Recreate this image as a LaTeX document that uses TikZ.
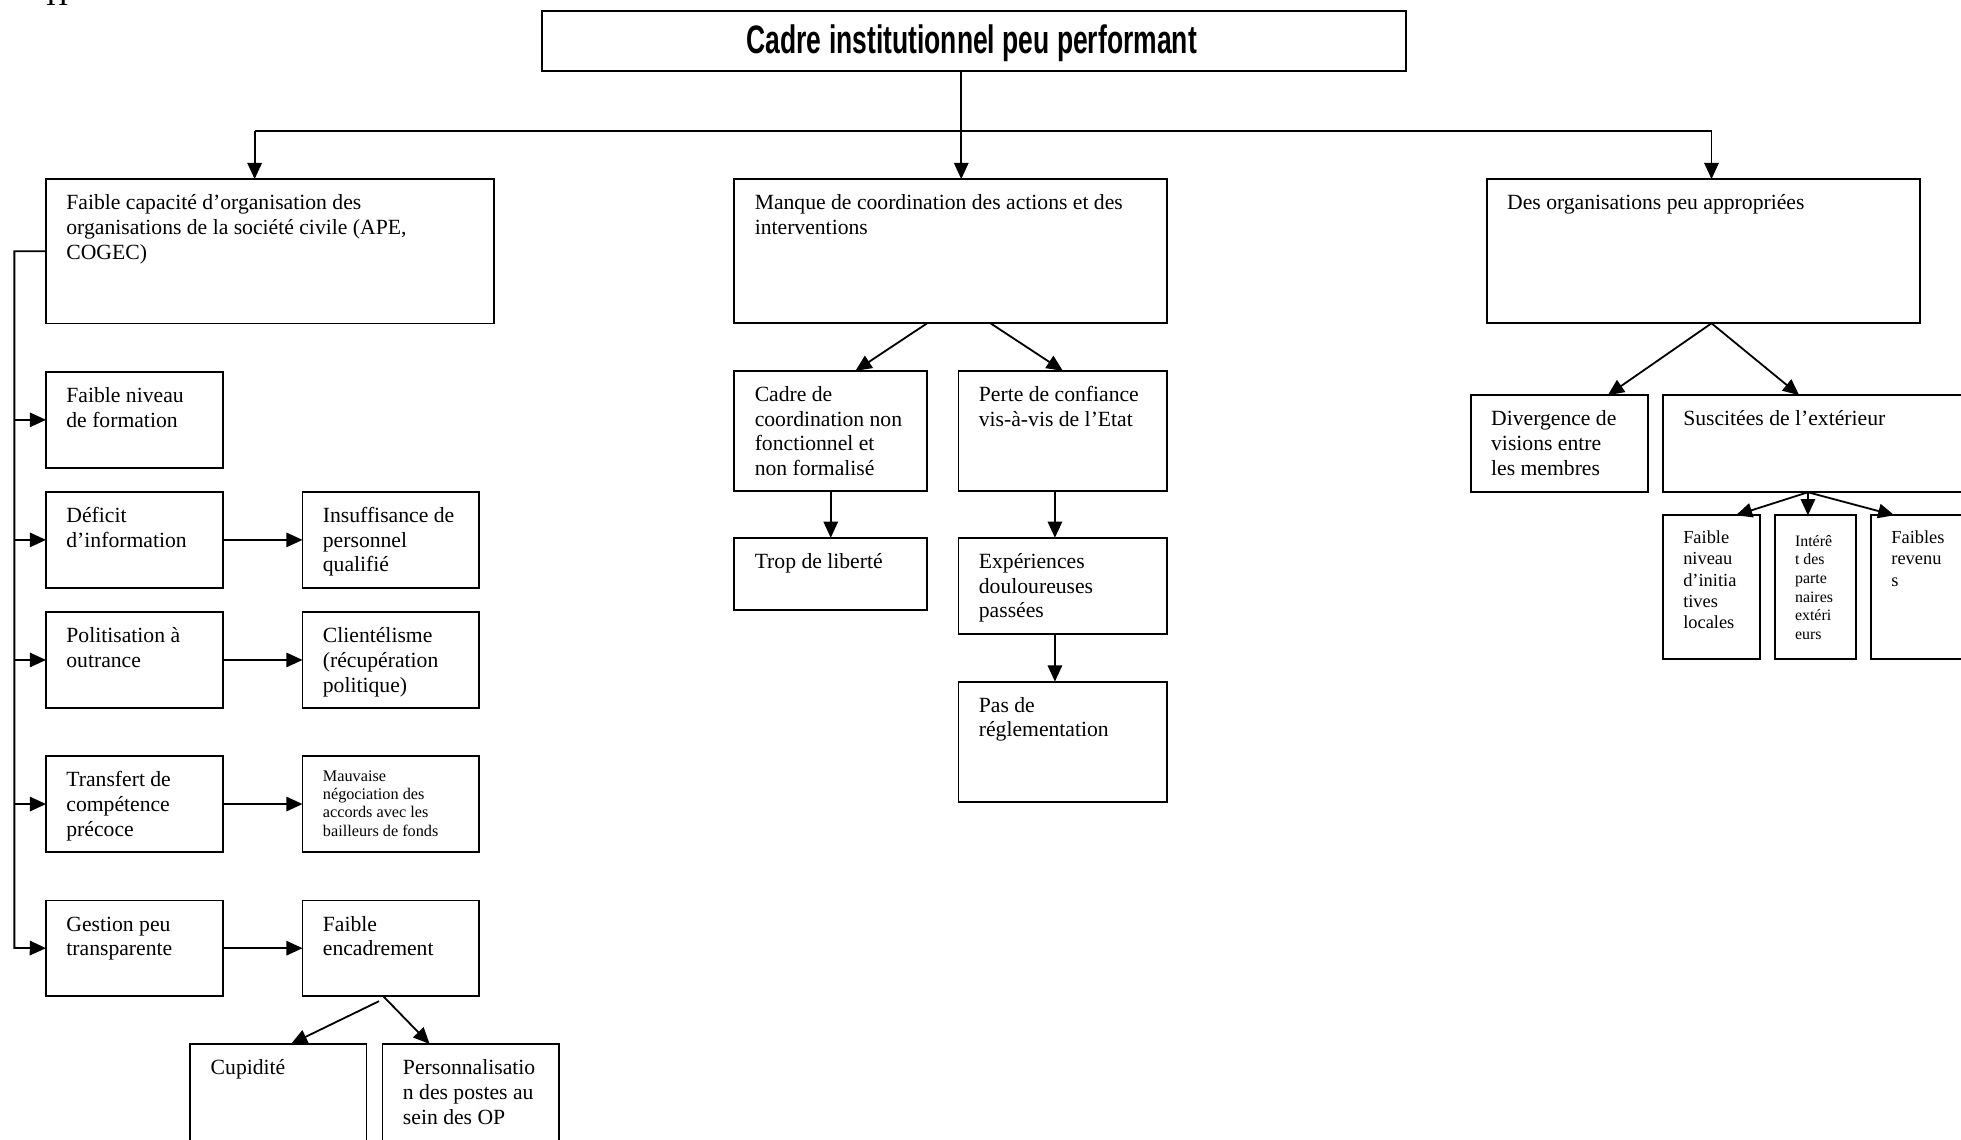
\documentclass[tikz,border=0pt]{standalone}
\usepackage{fontspec}
\usepackage{graphicx}
\setmainfont{Liberation Serif}
\newfontfamily\titlefont{Liberation Sans}
\usetikzlibrary{arrows.meta}

\tikzset{
  boxst/.style={draw, line width=1pt, inner sep=0pt, outer sep=0pt},
  lbl/.style={anchor=north west, inner sep=0pt, outer sep=0pt, align=left,
              font=\fontsize{12}{13.7}\selectfont},
  lblsmall/.style={lbl, font=\fontsize{9}{10.2}\selectfont},
  lbltiny/.style={lbl, font=\fontsize{8.8}{10.35}\selectfont},
  lblmid/.style={lbl, font=\fontsize{10.2}{11.8}\selectfont},
  wire/.style={line width=1pt},
  arr/.style={line width=1pt, -{Triangle[length=9pt,width=8pt]}},
}

% box from (x1,y1) to (x2,y2), y measured downwards
\newcommand\mkbox[5]{%
  \node[boxst, minimum width={(#4-(#2))*0.693pt}, minimum height={(#5-(#3))*0.693pt}]
    (#1) at ({(#2+#4)/2},{(#3+#5)/2}) {};}
% text set in the upper left corner of a box
\newcommand\mklbl[4][lbl]{%
  \node[#1] (#2-t) at ([shift={(16.3,#3)}]#2.north west) {\rule{0pt}{9pt}#4};}

\begin{document}
\begin{tikzpicture}[x=0.693pt, y=-0.693pt]
\clip (0,0) rectangle (1568,911);
\fill[white] (0,0) rectangle (1568,911);

% heading fragment at the top edge
\node[anchor=base west, inner sep=0pt, font=\fontsize{17}{20}\selectfont] (frag) at (36.5,4.3) {H};

% ---------- boxes ----------
\mkbox{T}{433.2}{8.8}{1124}{56.5}
\mkbox{A}{36.8}{143.2}{395.3}{258.7}
\mkbox{B}{587.2}{143.2}{933.3}{258.5}
\mkbox{C}{1188.8}{143.2}{1535}{258.5}

\mkbox{L1}{36.8}{297.3}{178.2}{374.1}
\mkbox{L2}{36.8}{393.3}{178.2}{470.1}
\mkbox{L3}{36.8}{489.3}{178.2}{566.1}
\mkbox{L4}{36.8}{604.5}{178.2}{681.3}
\mkbox{L5}{36.8}{720}{178.2}{796.3}
\mkbox{R2}{241.9}{393.3}{382.7}{470.1}
\mkbox{R3}{241.9}{489.3}{382.7}{566.1}
\mkbox{R4}{241.9}{604.5}{382.7}{681.3}
\mkbox{R5}{241.9}{720}{382.7}{796.3}
\mkbox{Cu}{152.2}{834.7}{293}{960}
\mkbox{Pe}{305.9}{834.7}{446.7}{960}

\mkbox{B1}{587.2}{296.5}{741.3}{392.5}
\mkbox{B2}{766.4}{296.5}{933.3}{392.5}
\mkbox{Tr}{587.2}{430}{741.3}{488}
\mkbox{Ex}{766.4}{430}{933.3}{507}
\mkbox{Pa}{766.4}{545}{933.3}{641}

\mkbox{C1}{1176}{316}{1317.6}{393.6}
\mkbox{C2}{1329.6}{316}{1600}{393.6}
\mkbox{C21}{1329.6}{412}{1407}{527}
\mkbox{C22}{1419}{412}{1484}{527}
\mkbox{C23}{1496}{412}{1600}{527}

% ---------- texts ----------
\node[anchor=base, inner sep=0pt] (T-t) at ([shift={(-1.6,10.1)}]T.center)
  {\scalebox{0.667}[1]{\titlefont\bfseries\fontsize{22}{24}\selectfont Cadre institutionnel peu performant}};

\mklbl{A}{11.5}{Faible capacité d’organisation des\\organisations de la société civile (APE,\\COGEC)}
\mklbl{B}{11.5}{Manque de coordination des actions et des\\interventions}
\mklbl{C}{11.5}{Des organisations peu appropriées}

\mklbl{L1}{11.5}{Faible niveau\\de formation}
\mklbl{L2}{11.5}{Déficit\\d’information}
\mklbl{L3}{11.5}{Politisation à\\outrance}
\mklbl{L4}{11.5}{Transfert de\\compétence\\précoce}
\mklbl{L5}{11.5}{Gestion peu\\transparente}
\mklbl{R2}{11.5}{Insuffisance de\\personnel\\qualifié}
\mklbl{R3}{11.5}{Clientélisme\\(récupération\\politique)}
\mklbl[lblsmall]{R4}{7.0}{Mauvaise\\négociation des\\accords avec les\\bailleurs de fonds}
\mklbl{R5}{11.5}{Faible\\encadrement}
\mklbl{Cu}{11.5}{Cupidité}
\mklbl{Pe}{11.5}{Personnalisatio\\n des postes au\\sein des OP}

\mklbl{B1}{11.5}{Cadre de\\coordination non\\fonctionnel et\\non formalisé}
\mklbl{B2}{11.5}{Perte de confiance\\vis-à-vis de l’Etat}
\mklbl{Tr}{11.5}{Trop de liberté}
\mklbl{Ex}{11.5}{Expériences\\douloureuses\\passées}
\mklbl{Pa}{11.5}{Pas de\\réglementation}

\mklbl{C1}{11.5}{Divergence de\\visions entre\\les membres}
\mklbl{C2}{11.5}{Suscitées de l’extérieur}
\mklbl[lblmid]{C21}{9.7}{Faible\\niveau\\d’initia\\tives\\locales}
\mklbl[lbltiny]{C22}{11.8}{Intérê\\t des\\parte\\naires\\extéri\\eurs}
\mklbl[lblmid]{C23}{9.7}{Faibles\\revenu\\s}

% ---------- connectors ----------
\coordinate (dA) at (203.6,104.8);
\coordinate (dB) at (768.6,104.8);
\coordinate (dC) at (1368.5,104.8);
\coordinate (sp) at (11.5,757.9);

\draw[wire] (dB |- T.south) -- (dB);
\draw[wire] (dA) -- (dC);
\draw[arr] (dA) -- (dA |- A.north);
\draw[arr] (dB) -- (dB |- B.north);
\draw[arr] (dC) -- (dC |- C.north);

% left column
\draw[arr] (A.west) -| (sp) -- (L5.west);
\draw[arr] (L1.west -| sp) -- (L1.west);
\draw[arr] (L2.west -| sp) -- (L2.west);
\draw[arr] (L3.west -| sp) -- (L3.west);
\draw[arr] (L4.west -| sp) -- (L4.west);
\draw[arr] (L2.east) -- (R2.west);
\draw[arr] (L3.east) -- (R3.west);
\draw[arr] (L4.east) -- (R4.west);
\draw[arr] (L5.east) -- (R5.west);
\draw[arr] ([shift={(-9.2,4.2)}]R5.south) -- ([shift={(10.1,0)}]Cu.north);
\draw[arr] ([shift={(-6.1,0)}]R5.south) -- ([shift={(-32.8,0)}]Pe.north);

% middle column
\draw[arr] (B.south -| B1.east) -- ([shift={(19.75,0)}]B1.north);
\draw[arr] ([shift={(31.75,0)}]B.south) -- (B2.north);
\draw[arr] (B1.south) -- (Tr.north);
\draw[arr] ([shift={(-6.35,0)}]B2.south) -- ([shift={(-6.35,0)}]Ex.north);
\draw[arr] ([shift={(-6.35,0)}]Ex.south) -- ([shift={(-6.35,0)}]Pa.north);

% right column
\draw[arr] ([shift={(6.6,0)}]C.south) -- ([shift={(38.8,0)}]C1.north);
\draw[arr] ([shift={(6.6,0)}]C.south) -- ([shift={(109,0)}]C2.north west);
\draw[arr] ([shift={(116,0)}]C2.south west) -- ([shift={(58.4,0)}]C21.north west);
\draw[arr] ([shift={(116,0)}]C2.south west) -- ([shift={(26.6,0)}]C22.north west);
\draw[arr] ([shift={(116,0)}]C2.south west) -- ([shift={(18.7,0)}]C23.north west);
\end{tikzpicture}
\end{document}
